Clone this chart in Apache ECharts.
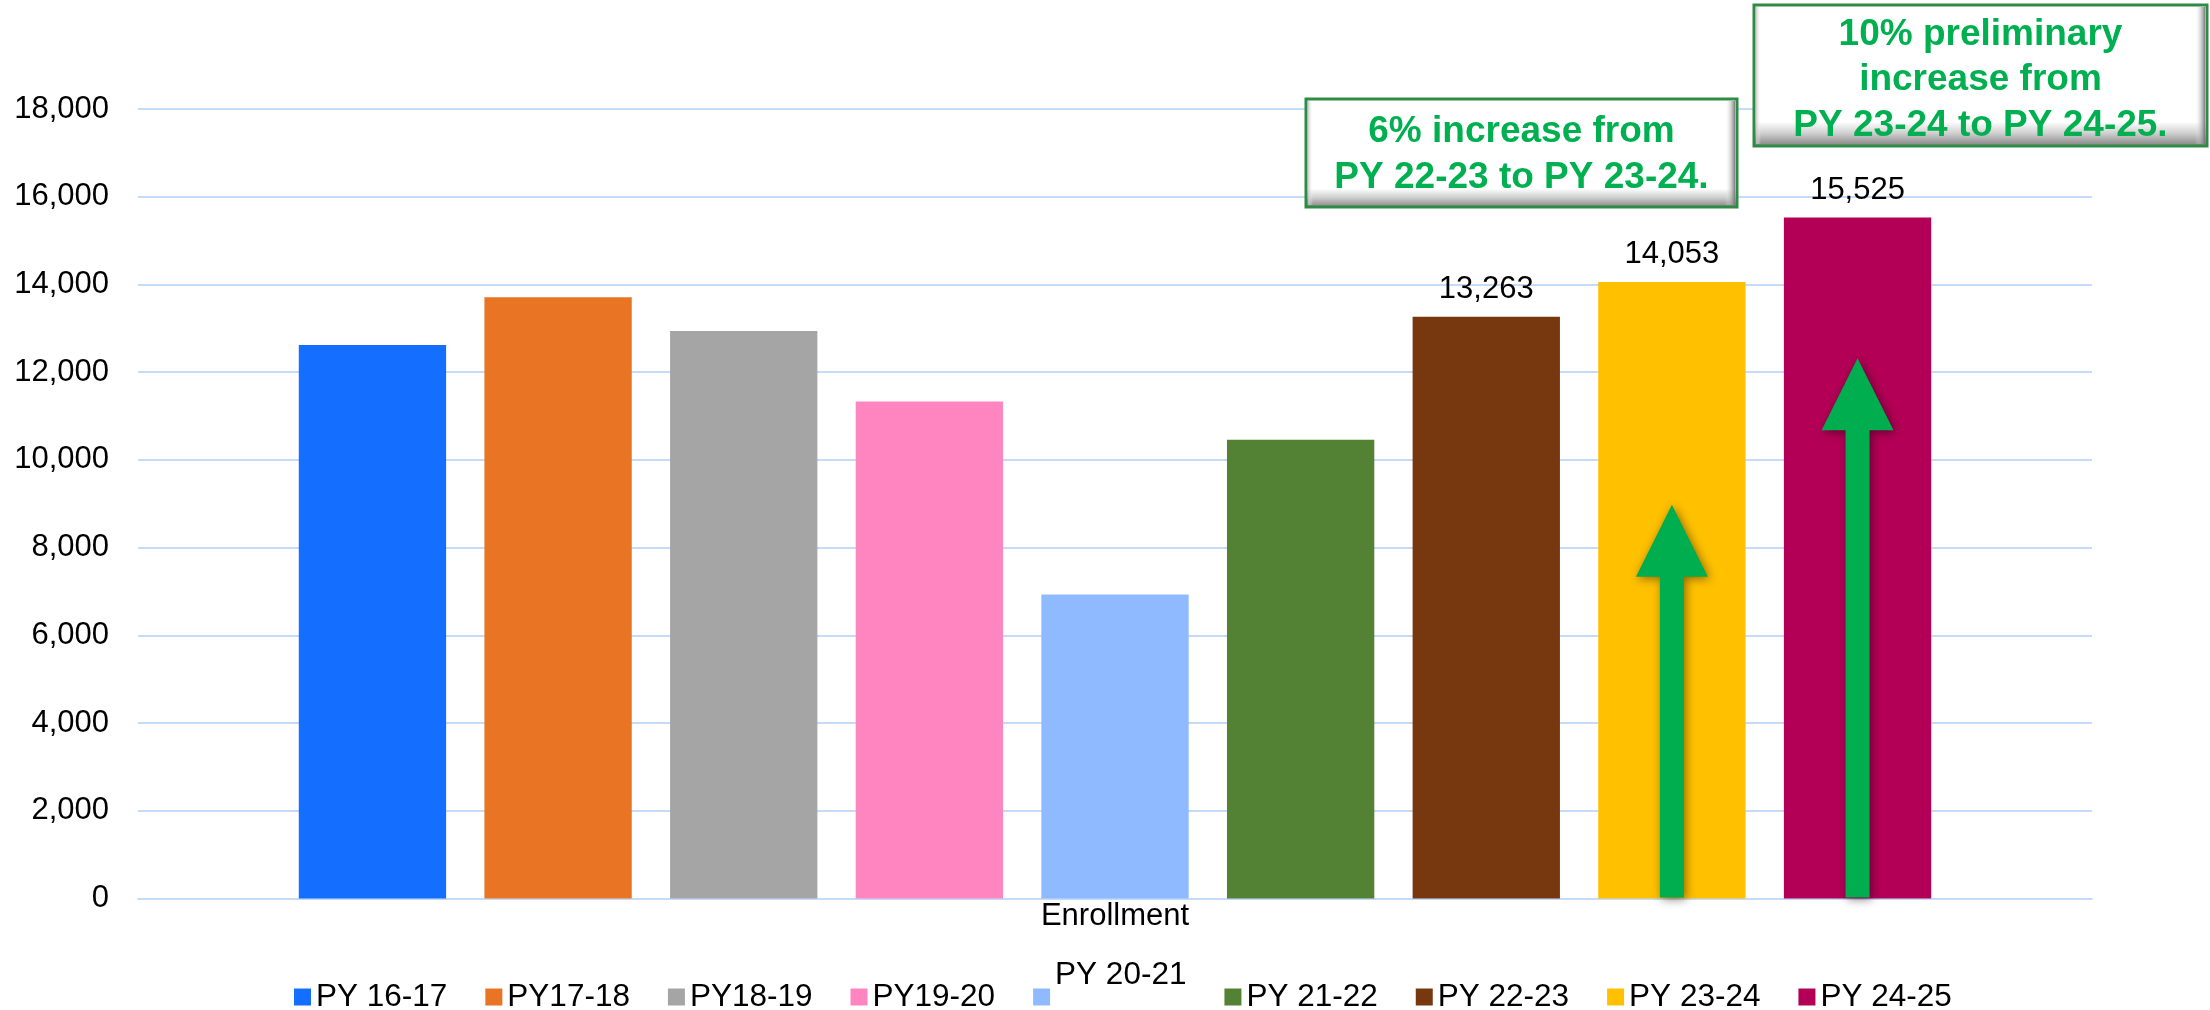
<!DOCTYPE html>
<html>
<head>
<meta charset="utf-8">
<script src="https://cdn.jsdelivr.net/npm/echarts@6/dist/echarts.min.js"></script>
<style>
html,body{margin:0;padding:0;background:#fff;}
#chart{width:2210px;height:1010px;}
</style>
</head>
<body>
<div id="chart"></div>
<script>
// ---- data ----
const categories = ['Enrollment'];
const seriesNames = ['PY 16-17', 'PY17-18', 'PY18-19', 'PY19-20', 'PY 20-21', 'PY 21-22', 'PY 22-23', 'PY 23-24', 'PY 24-25'];
const values = [12620, 13710, 12940, 11330, 6930, 10460, 13263, 14053, 15525];
const labeledSeries = ['PY 22-23', 'PY 23-24', 'PY 24-25'];
const seriesColors = ['#146EFF', '#E97424', '#A5A5A5', '#FF85C1', '#8FBAFF', '#548235', '#78380F', '#FFC000', '#B30056'];
const yMin = 0, yMax = 18000, yInterval = 2000;
const note1Lines = ['6% increase from', 'PY 22-23 to PY 23-24.'];
const note2Lines = ['10% preliminary', 'increase from', 'PY 23-24 to PY 24-25.'];
const arrowSeries = ['PY 23-24', 'PY 24-25'];
const arrowTips = [8980, 12320];

const FONT = 'Liberation Sans, Arial, sans-serif';
const chart = echarts.init(document.getElementById('chart'), null, {renderer: 'canvas'});

const series = seriesNames.map((name, i) => ({
  name: name,
  type: 'bar',
  data: [values[i]],
  barWidth: '7.54%',
  barGap: '26%',
  itemStyle: {color: seriesColors[i]},
  label: {
    show: labeledSeries.indexOf(name) >= 0,
    position: 'top',
    distance: 12,
    fontSize: 31,
    fontFamily: FONT,
    color: '#000',
    formatter: p => p.value.toLocaleString('en-US')
  }
}));

const option = {
  animation: false,
  backgroundColor: '#fff',
  grid: {left: 138, right: 118, top: 109, bottom: 111.5, containLabel: false},
  xAxis: {
    type: 'category',
    data: categories,
    axisLine: {show: true, lineStyle: {color: '#C6DBF8', width: 2}},
    axisTick: {show: false},
    axisLabel: {fontSize: 31, fontFamily: FONT, color: '#000', margin: 2}
  },
  yAxis: {
    type: 'value',
    min: yMin, max: yMax, interval: yInterval,
    axisLine: {show: false},
    axisTick: {show: false},
    splitLine: {lineStyle: {color: '#C6DBF8', width: 2}},
    axisLabel: {fontSize: 31, fontFamily: FONT, color: '#000', margin: 29,
      formatter: v => v.toLocaleString('en-US')}
  },
  legend: {
    data: seriesNames,
    selectedMode: false,
    orient: 'horizontal',
    left: 294, top: 959,
    padding: 0,
    icon: 'rect',
    itemWidth: 17, itemHeight: 17, itemGap: 38,
    textStyle: {fontSize: 31.5, fontFamily: FONT, color: '#000',
      rich: {up: {fontSize: 31.5, fontFamily: FONT, color: '#000', padding: [0, 0, 44, 0]}}},
    formatter: name => name === 'PY 20-21' ? '{up|' + name + '}' : name
  },
  series: series
};
chart.setOption(option);

function noteBox(x, y, w, h, lines, cy) {
  return {
    type: 'group', z: 100,
    children: [
      {type: 'rect', shape: {x: x, y: y, width: w, height: h}, z: 100,
        style: {fill: new echarts.graphic.LinearGradient(0, 0, 0, 1, [
          {offset: 0, color: '#ffffff'}, {offset: 0.82, color: '#ffffff'},
          {offset: 0.9, color: '#d0d0d0'}, {offset: 1, color: '#7a7a7a'}]),
          stroke: '#2E8B45', lineWidth: 3}},
      {type: 'rect', shape: {x: x + w - 12, y: y + 2, width: 10, height: h - 4}, z: 101,
        style: {fill: new echarts.graphic.LinearGradient(0, 0, 1, 0, [
          {offset: 0, color: 'rgba(255,255,255,0)'}, {offset: 1, color: 'rgba(110,110,110,0.9)'}])}},
      {type: 'rect', shape: {x: x + 2, y: y + 2, width: 5, height: h - 4}, z: 101,
        style: {fill: new echarts.graphic.LinearGradient(0, 0, 1, 0, [
          {offset: 0, color: 'rgba(190,190,190,0.8)'}, {offset: 1, color: 'rgba(255,255,255,0)'}])}},
      {type: 'text', z: 102, x: x + w / 2, y: cy,
        style: {text: lines.join('\n'), fill: '#00B050', font: 'bold 37px ' + FONT,
          align: 'center', verticalAlign: 'middle', lineHeight: 45.5}}
    ]
  };
}

function buildGraphics() {
  const graphics = [];
  const model = chart.getModel();
  const y0 = chart.convertToPixel({yAxisIndex: 0}, 0);
  arrowSeries.forEach((name, k) => {
    const idx = seriesNames.indexOf(name);
    const layout = model.getSeriesByIndex(idx).getData().getItemLayout(0);
    const cx = layout.x + layout.width / 2;
    const yTip = chart.convertToPixel({yAxisIndex: 0}, arrowTips[k]);
    const head = 72, hw = 36, sw = 12;
    graphics.push({
      type: 'polygon', z: 100,
      shape: {points: [[cx, yTip], [cx + hw, yTip + head], [cx + sw, yTip + head], [cx + sw, y0 - 1],
        [cx - sw, y0 - 1], [cx - sw, yTip + head], [cx - hw, yTip + head]]},
      style: {fill: '#00AD4F', shadowBlur: 10, shadowColor: 'rgba(0,0,0,0.45)', shadowOffsetX: 2, shadowOffsetY: 2}
    });
  });
  graphics.push(noteBox(1306, 99, 431, 108, note1Lines, 155));
  graphics.push(noteBox(1754, 5, 453, 141, note2Lines, 80));
  chart.setOption({graphic: graphics});
}
buildGraphics();
</script>
</body>
</html>
